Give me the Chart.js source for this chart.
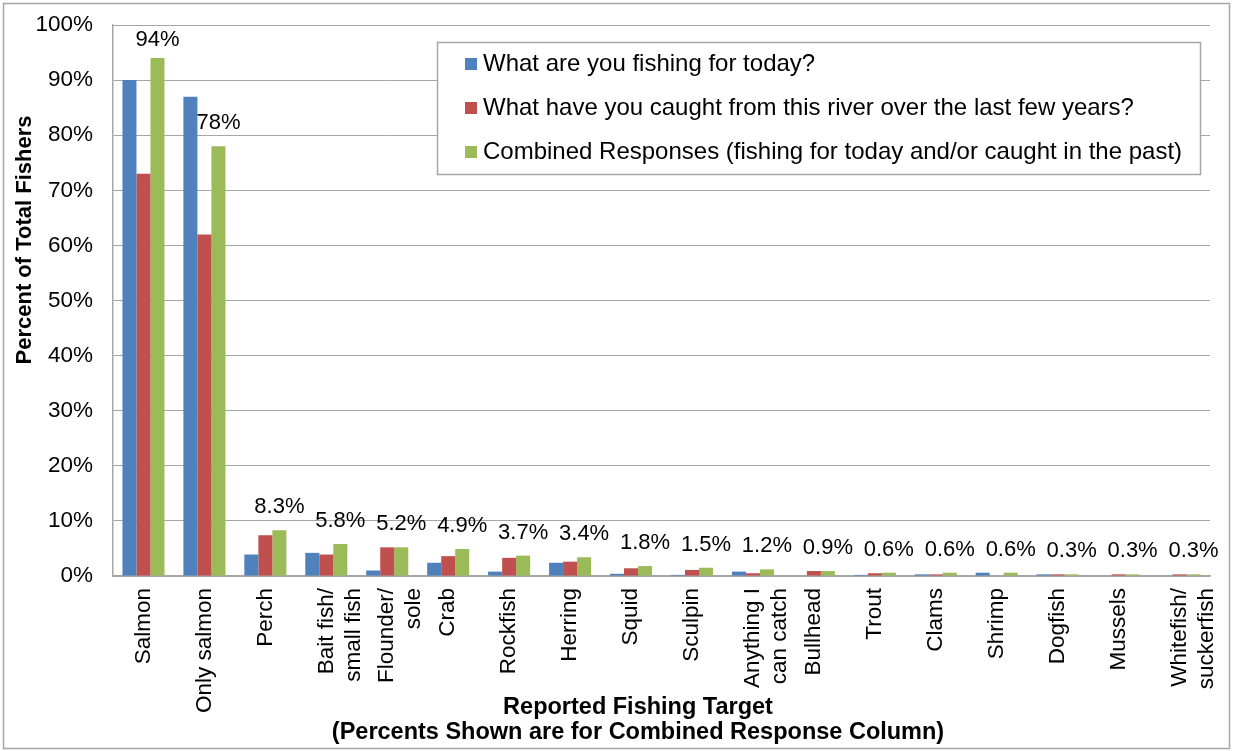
<!DOCTYPE html>
<html>
<head>
<meta charset="utf-8">
<script src="https://cdn.jsdelivr.net/npm/chart.js@4.4.1/dist/chart.umd.min.js"></script>
<style>
  body { margin: 0; background: #fff; }
  canvas { display: block; }
</style>
</head>
<body>
<canvas id="fishChart" width="1233" height="751"></canvas>
<script>
// survey responses, percent of total fishers
var categories = ["Salmon", "Only salmon", "Perch", ["Bait fish/", "small fish"], ["Flounder/", "sole"],
    "Crab", "Rockfish", "Herring", "Squid", "Sculpin", ["Anything I", "can catch"], "Bullhead",
    "Trout", "Clams", "Shrimp", "Dogfish", "Mussels", ["Whitefish/", "suckerfish"]];
var fishingToday = [90, 87, 3.9, 4.2, 1.0, 2.4, 0.8, 2.4, 0.4, 0.2, 0.8, 0, 0.2, 0.3, 0.6, 0.3, 0, 0];
var caughtPast = [73, 62, 7.4, 3.9, 5.2, 3.6, 3.3, 2.6, 1.4, 1.1, 0.5, 0.9, 0.5, 0.3, 0, 0.3, 0.3, 0.3];
var combined = [94, 78, 8.3, 5.8, 5.2, 4.9, 3.7, 3.4, 1.8, 1.5, 1.2, 0.9, 0.6, 0.6, 0.6, 0.3, 0.3, 0.3];
var seriesNames = ["What are you fishing for today?",
    "What have you caught from this river over the last few years?",
    "Combined Responses (fishing for today and/or caught in the past)"];
var yTitle = "Percent of Total Fishers";
var xTitle = ["Reported Fishing Target", "(Percents Shown are for Combined Response Column)"];

var FONT = "'Liberation Sans', Arial, sans-serif";
var GRID = "#a6a6a6";

function pctLabel(v){
    return v >= 10 ? v + "%" : v.toFixed(1) + "%";
}

// white background and outer frame
var framePlugin = {
    id: "frame",
    beforeDraw: function(chart){
        var ctx = chart.ctx;
        ctx.save();
        ctx.fillStyle = "#fff";
        ctx.fillRect(0, 0, chart.width, chart.height);
        ctx.strokeStyle = GRID;
        ctx.lineWidth = 1.5;
        ctx.strokeRect(3.5, 3.5, chart.width - 7, chart.height - 6);
        ctx.restore();
    }
};

// value labels over the combined column, kept inside the plot area
var comboLabels = {
    id: "comboLabels",
    afterDatasetsDraw: function(chart){
        var ctx = chart.ctx;
        var meta = chart.getDatasetMeta(2);
        var minY = chart.chartArea.top + 15;
        ctx.save();
        ctx.font = "22px " + FONT;
        ctx.fillStyle = "#000";
        ctx.textAlign = "center";
        ctx.textBaseline = "middle";
        meta.data.forEach(function(bar, i){
            ctx.fillText(pctLabel(combined[i]), bar.x, Math.max(bar.y - 23, minY));
        });
        ctx.restore();
    }
};

// boxed legend inside the plot, plus axis titles
var extras = {
    id: "extras",
    afterDraw: function(chart){
        var ctx = chart.ctx;
        ctx.save();
        var bx = 437, by = 42, bw = 763, bh = 132;
        ctx.fillStyle = "#fff";
        ctx.fillRect(bx, by, bw, bh);
        ctx.strokeStyle = GRID;
        ctx.lineWidth = 1.5;
        ctx.strokeRect(bx + 0.5, by + 0.5, bw, bh);
        ctx.font = "24px " + FONT;
        ctx.textBaseline = "middle";
        ctx.textAlign = "left";
        chart.data.datasets.forEach(function(ds, i){
            var cy = 64 + i * 44;
            ctx.fillStyle = ds.backgroundColor;
            ctx.fillRect(465, cy - 6, 12, 12);
            ctx.fillStyle = "#000";
            ctx.fillText(ds.label, 483, cy);
        });

        ctx.fillStyle = "#000";
        ctx.textAlign = "center";
        ctx.save();
        ctx.font = "bold 22px " + FONT;
        ctx.translate(25, 240);
        ctx.rotate(-Math.PI / 2);
        ctx.fillText(yTitle, 0, 0);
        ctx.restore();
        ctx.font = "bold 23.5px " + FONT;
        ctx.fillText(xTitle[0], 638, 708);
        ctx.fillText(xTitle[1], 638, 733);
        ctx.restore();
    }
};

var ctx = document.getElementById("fishChart").getContext("2d");
var chart = new Chart(ctx, {
    type: "bar",
    data: {
        labels: categories,
        datasets: [
            { label: seriesNames[0], data: fishingToday, backgroundColor: "#4f81bd" },
            { label: seriesNames[1], data: caughtPast, backgroundColor: "#c0504d" },
            { label: seriesNames[2], data: combined, backgroundColor: "#9bbb59" }
        ]
    },
    options: {
        responsive: false,
        animation: false,
        devicePixelRatio: 1,
        categoryPercentage: 0.69,
        barPercentage: 1,
        layout: { padding: { top: 25, right: 23, left: 0, bottom: 0 } },
        plugins: {
            legend: { display: false },
            tooltip: { enabled: false }
        },
        scales: {
            x: {
                grid: { display: false, drawTicks: false },
                border: { color: GRID, width: 1.5 },
                ticks: {
                    autoSkip: false,
                    minRotation: 90,
                    maxRotation: 90,
                    padding: 12,
                    color: "#000",
                    font: { family: FONT, size: 22.5 }
                },
                afterFit: function(scale){
                    scale.height = 175;
                    scale.paddingLeft = 0;
                    scale.paddingRight = 0;
                }
            },
            y: {
                min: 0,
                max: 100,
                grid: { color: GRID, drawTicks: false },
                border: { color: GRID, width: 1.5 },
                ticks: {
                    stepSize: 10,
                    padding: 20,
                    color: "#000",
                    font: { family: FONT, size: 22.5 },
                    callback: function(v){ return v + "%"; }
                },
                afterFit: function(scale){
                    scale.width = 113;
                    scale.paddingTop = 0;
                    scale.paddingBottom = 0;
                }
            }
        }
    },
    plugins: [framePlugin, comboLabels, extras]
});
</script>
</body>
</html>
